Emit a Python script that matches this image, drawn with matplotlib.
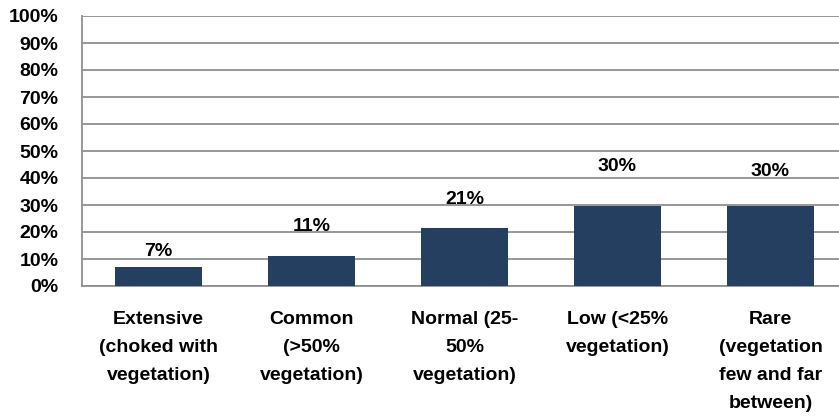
import matplotlib
matplotlib.use("Agg")
import matplotlib.pyplot as plt
from matplotlib.ticker import PercentFormatter

categories = [
    "Extensive\n(choked with\nvegetation)",
    "Common\n(>50%\nvegetation)",
    "Normal (25-\n50%\nvegetation)",
    "Low (<25%\nvegetation)",
    "Rare\n(vegetation\nfew and far\nbetween)",
]
values = [7.0, 11.2, 21.4, 29.7, 29.7]
value_labels = ["7%", "11%", "21%", "30%", "30%"]
label_offsets = [11, 21, 21, 28, 25]  # points above bar top (as in the original)

plt.rcParams['font.family'] = ['Liberation Sans', 'DejaVu Sans']
plt.rcParams['font.weight'] = 'bold'

fig = plt.figure(figsize=(8.39, 4.20), dpi=100)
ax = fig.add_axes([82 / 839, 1 - 286 / 420, 765 / 839, 270 / 420])

x = range(len(categories))
bars = ax.bar(x, values, width=0.57, color='#253f60', zorder=3)

for b, lab, off in zip(bars, value_labels, label_offsets):
    ax.annotate(lab, (b.get_x() + b.get_width() / 2, b.get_height()),
                xytext=(0, off), textcoords='offset points',
                ha='center', va='center', fontsize=14, fontweight='bold')

ax.set_xlim(-0.5, len(categories) - 0.5)
ax.set_ylim(0, 100)
ax.set_yticks(range(0, 101, 10))
ax.yaxis.set_major_formatter(PercentFormatter(decimals=0))
ax.set_xticks(list(x))
ax.set_xticklabels(categories, linespacing=1.85)

ax.grid(axis='y', color='#8f8f8f', linewidth=1.3, zorder=0)
ax.tick_params(axis='y', length=0, pad=17, labelsize=14)
ax.tick_params(axis='x', length=0, pad=18, labelsize=14)
for lbl in ax.get_xticklabels() + ax.get_yticklabels():
    lbl.set_fontweight('bold')
for s in ['top', 'right']:
    ax.spines[s].set_visible(False)
for s in ['left', 'bottom']:
    ax.spines[s].set_color('#8f8f8f')
    ax.spines[s].set_linewidth(1.3)

fig.savefig("out.png", dpi=100)
